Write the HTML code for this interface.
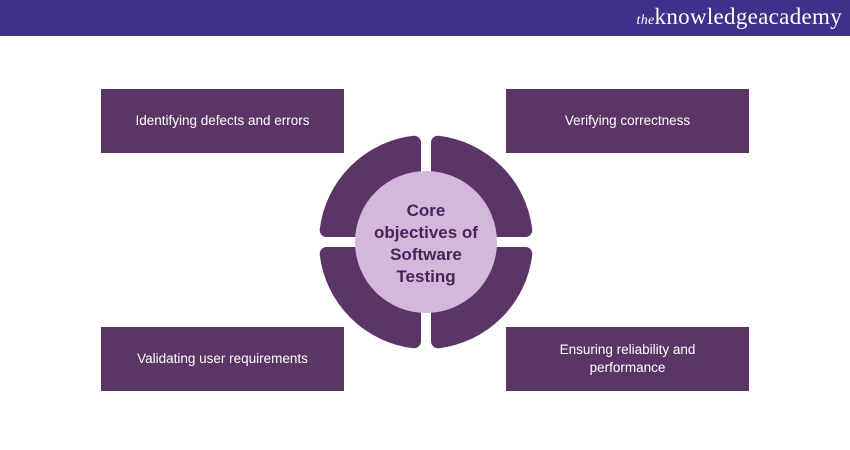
<!DOCTYPE html>
<html><head><style>
body{margin:0;width:850px;height:450px;background:#fff;position:relative;overflow:hidden;font-family:"Liberation Sans",sans-serif}
.hdr{position:absolute;left:0;top:0;width:850px;height:36px;background:#40308a}
.logo{position:absolute;right:8px;top:4px;color:#fff;font-family:"Liberation Serif",serif;font-size:23px;letter-spacing:0.3px}
.logo i{font-size:14px}
.box{position:absolute;width:243px;height:64px;background:#5c3567;color:#fff;font-size:13.5px;display:flex;align-items:center;justify-content:center;text-align:center;line-height:18px}
</style></head><body>
<div class="hdr"><div class="logo"><i>the</i>knowledgeacademy</div></div>
<div class="box" style="left:101px;top:89px">Identifying defects and errors</div>
<div class="box" style="left:506px;top:89px">Verifying correctness</div>
<div class="box" style="left:101px;top:327px">Validating user requirements</div>
<div class="box" style="left:506px;top:327px">Ensuring reliability and<br>performance</div>
<svg style="position:absolute;left:0;top:0" width="850" height="450">
<g fill="#5c3567" stroke="#5c3567" stroke-width="14" stroke-linejoin="round">
<path d="M438,230 L438,142.7 A100,100 0 0 1 525.3,230 Z"/>
<path d="M414,230 L414,142.7 A100,100 0 0 0 326.7,230 Z"/>
<path d="M438,254 L438,341.3 A100,100 0 0 0 525.3,254 Z"/>
<path d="M414,254 L414,341.3 A100,100 0 0 1 326.7,254 Z"/>
</g>
<circle cx="426" cy="242" r="71" fill="#d3b8dc"/>
<text font-family="Liberation Sans,sans-serif" font-weight="bold" font-size="17" fill="#4a2358" text-anchor="middle">
<tspan x="426" y="216">Core</tspan><tspan x="426" y="238">objectives of</tspan><tspan x="426" y="260">Software</tspan><tspan x="426" y="282">Testing</tspan></text>
</svg>
</body></html>
